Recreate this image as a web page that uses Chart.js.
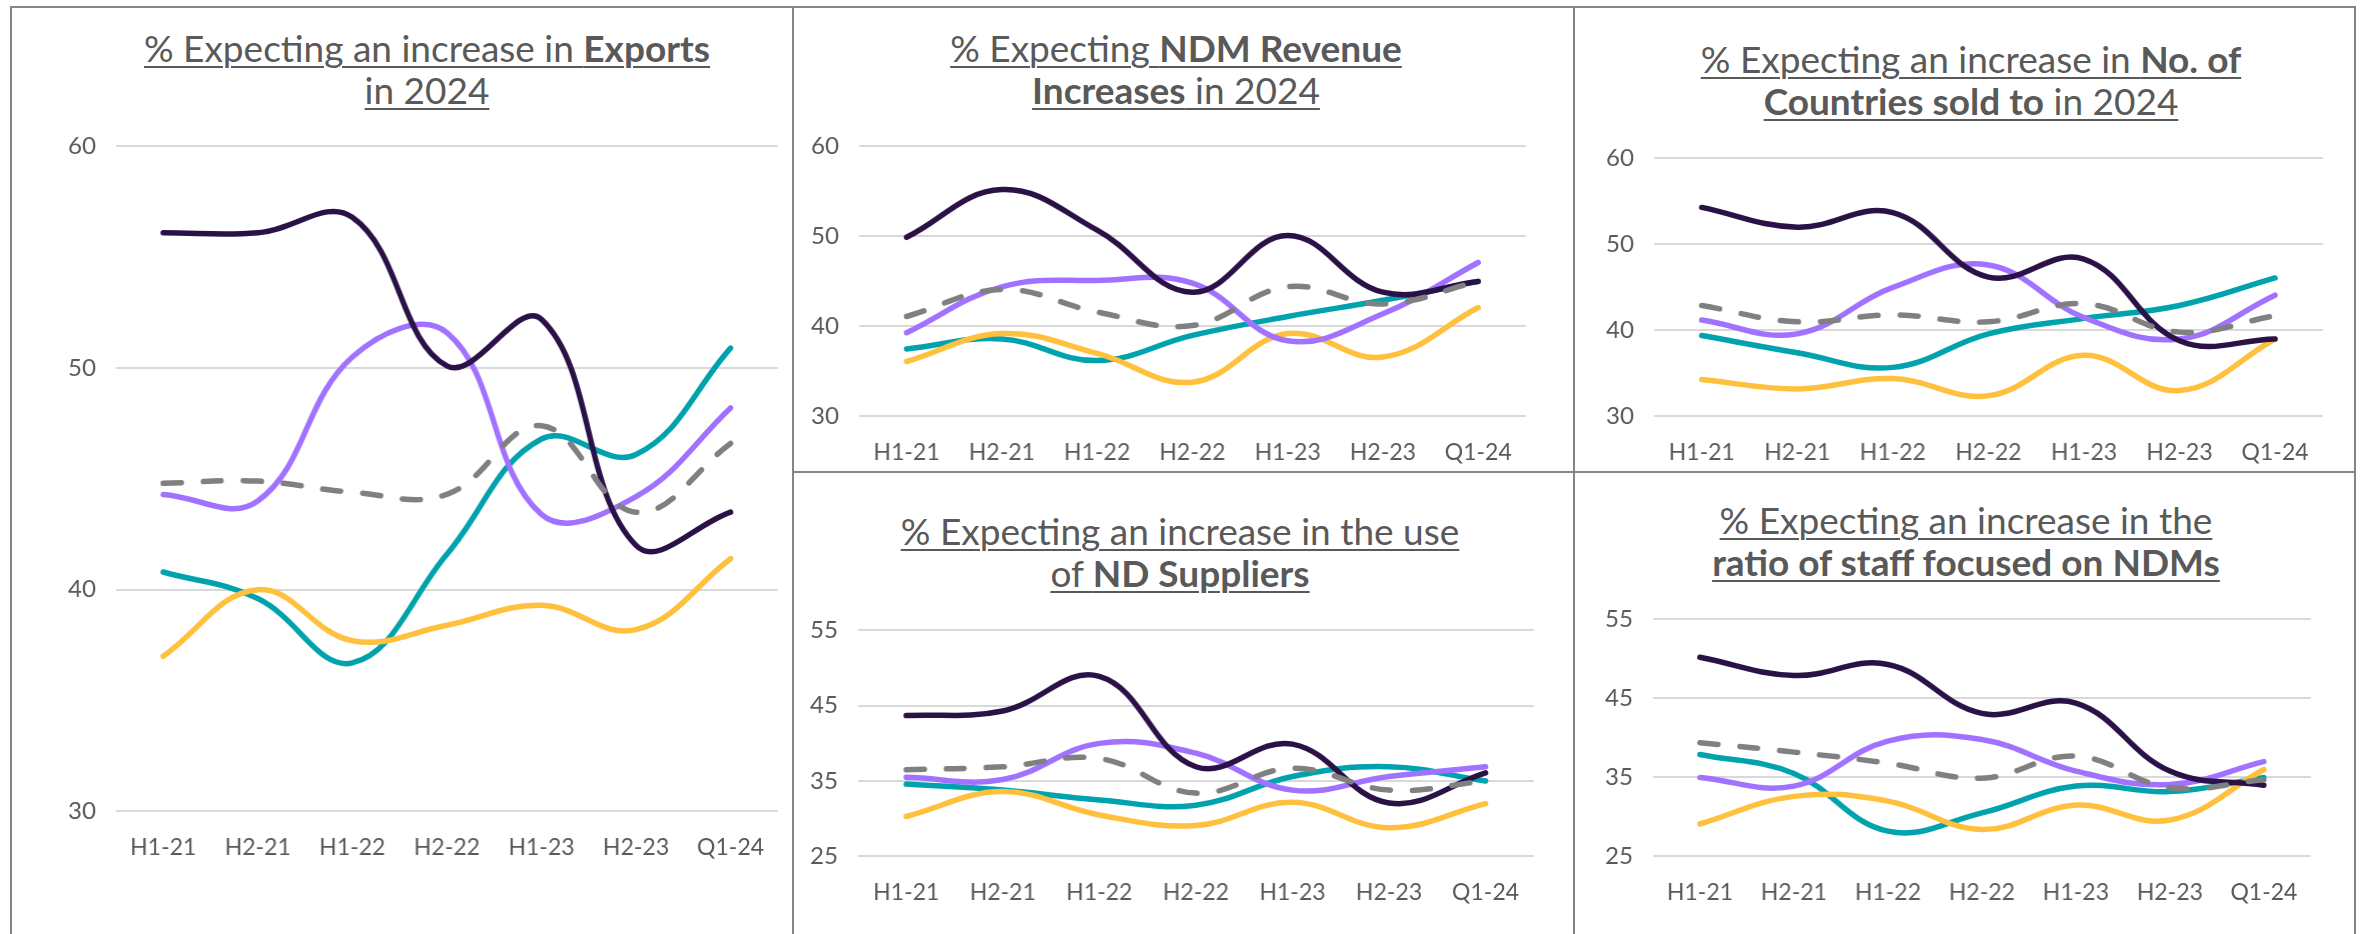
<!DOCTYPE html>
<html>
<head>
<meta charset="utf-8">
<script src="https://cdn.jsdelivr.net/npm/chart.js@4.4.1/dist/chart.umd.min.js"></script>
<style>
  body { margin: 0; width: 2362px; height: 934px; background: #fff; position: relative; overflow: hidden; font-family: Lato, "Noto Sans", sans-serif; }
  .rule { position: absolute; background: #858585; }
  .title { position: absolute; width: 760px; margin-left: -380px; text-align: center; color: #595959;
           font-size: 37px; line-height: 42px; white-space: nowrap; }
  .title span { text-decoration: underline; text-decoration-thickness: 2px; text-underline-offset: 4px; }
  .title b { font-weight: 700; }
  canvas { position: absolute; }
</style>
</head>
<body>
<!-- frame -->
<div class="rule" style="left:10px;top:6px;width:2346px;height:2px"></div>
<div class="rule" style="left:10px;top:6px;width:2px;height:928px"></div>
<div class="rule" style="left:792px;top:6px;width:2px;height:928px"></div>
<div class="rule" style="left:1573px;top:6px;width:2px;height:928px"></div>
<div class="rule" style="left:2354px;top:6px;width:2px;height:928px"></div>
<div class="rule" style="left:792px;top:471px;width:1564px;height:2px"></div>

<div class="title" style="left:427px;top:27px"><span>% Expecting an increase in <b>Exports</b></span><br><span>in 2024</span></div>
<div class="title" style="left:1176px;top:27px"><span>% Expecting <b>NDM Revenue</b></span><br><span><b>Increases</b> in 2024</span></div>
<div class="title" style="left:1971px;top:38px"><span>% Expecting an increase in <b>No. of</b></span><br><span><b>Countries sold to</b> in 2024</span></div>
<div class="title" style="left:1180px;top:510px"><span>% Expecting an increase in the use</span><br><span>of <b>ND Suppliers</b></span></div>
<div class="title" style="left:1966px;top:499px"><span>% Expecting an increase in the</span><br><span><b>ratio of staff focused on NDMs</b></span></div>

<canvas id="exports" width="800" height="800"></canvas>
<canvas id="revenue" width="800" height="400"></canvas>
<canvas id="countries" width="800" height="400"></canvas>
<canvas id="suppliers" width="800" height="400"></canvas>
<canvas id="staff" width="800" height="400"></canvas>

<script>
const periods = ['H1-21', 'H2-21', 'H1-22', 'H2-22', 'H1-23', 'H2-23', 'Q1-24'];

// Exports
const exportsDark   = [56.1, 56.1, 56.8, 50.1, 52.2, 42.0, 43.5];
const exportsPurple = [44.3, 44.0, 50.5, 51.6, 43.4, 44.2, 48.2];
const exportsTeal   = [40.8, 39.6, 36.7, 41.6, 46.8, 46.1, 50.9];
const exportsYellow = [37.0, 40.0, 37.7, 38.4, 39.3, 38.2, 41.4];
const exportsAvg    = [44.8, 44.9, 44.4, 44.3, 47.4, 43.5, 46.6];

// NDM revenue
const revenueDark   = [49.9, 55.2, 50.7, 43.8, 50.1, 43.8, 45.0];
const revenuePurple = [39.3, 44.4, 45.1, 44.8, 38.4, 41.4, 47.1];
const revenueTeal   = [37.5, 38.6, 36.2, 39.0, 41.1, 42.9, 45.0];
const revenueYellow = [36.1, 39.2, 37.0, 33.8, 39.2, 36.6, 42.1];
const revenueAvg    = [41.1, 44.1, 41.6, 40.1, 44.4, 42.5, 45.0];

// No. of countries sold to
const countriesDark   = [54.3, 52.0, 53.7, 46.2, 48.3, 38.8, 39.0];
const countriesPurple = [41.2, 39.6, 45.0, 47.6, 41.5, 39.0, 44.1];
const countriesTeal   = [39.4, 37.4, 35.7, 39.6, 41.4, 42.9, 46.1];
const countriesYellow = [34.3, 33.2, 34.4, 32.4, 37.1, 33.0, 39.0];
const countriesAvg    = [42.9, 41.0, 41.8, 41.0, 43.1, 39.8, 41.7];

// ND suppliers
const suppliersDark   = [43.7, 44.3, 48.9, 36.9, 39.9, 32.1, 36.1];
const suppliersPurple = [35.5, 35.2, 40.0, 38.7, 33.8, 35.6, 36.9];
const suppliersTeal   = [34.6, 33.8, 32.5, 31.8, 35.6, 36.9, 35.0];
const suppliersYellow = [30.3, 33.6, 30.5, 29.1, 32.2, 28.8, 32.0];
const suppliersAvg    = [36.5, 36.9, 38.0, 33.4, 36.7, 33.8, 35.0];

// ratio of staff focused on NDMs
const staffDark   = [50.2, 47.9, 49.3, 43.1, 44.4, 35.8, 34.0];
const staffPurple = [35.0, 33.9, 39.6, 39.8, 35.8, 34.1, 37.0];
const staffTeal   = [37.9, 35.5, 28.2, 30.5, 33.9, 33.2, 35.0];
const staffYellow = [29.1, 32.6, 32.0, 28.4, 31.5, 29.6, 36.0];
const staffAvg    = [39.4, 38.2, 36.8, 34.9, 37.7, 33.7, 34.7];

const textColor = '#595959';

function makeChart(id, dark, purple, teal, yellow, avg, yMin, yMax, yStep, area) {
    const canvas = document.getElementById(id);
    // first dataset is drawn on top
    const chart = new Chart(canvas, {
        type: 'line',
        data: {
            labels: periods,
            datasets: [
                { data: avg, borderColor: '#808080', borderDash: [18, 22] },
                { data: dark, borderColor: '#2a1146' },
                { data: purple, borderColor: '#a172ff' },
                { data: yellow, borderColor: '#ffc03d' },
                { data: teal, borderColor: '#00a3ad' }
            ]
        },
        options: {
            responsive: false,
            maintainAspectRatio: false,
            animation: false,
            events: [],
            plugins: { legend: { display: false }, tooltip: { enabled: false } },
            layout: { padding: { left: 10, right: 10, top: 20, bottom: 10 } },
            elements: {
                line: { tension: 0.4, borderWidth: 5.5, borderCapStyle: 'round', borderJoinStyle: 'round', fill: false },
                point: { radius: 0 }
            },
            scales: {
                x: {
                    offset: true,
                    grid: { display: false },
                    border: { display: false },
                    ticks: { color: textColor, font: { family: 'Lato', size: 23 }, padding: 14, maxRotation: 0, autoSkip: false }
                },
                y: {
                    min: yMin, max: yMax,
                    border: { display: false },
                    grid: { color: '#d9d9d9', lineWidth: 2, drawTicks: false },
                    ticks: { stepSize: yStep, color: textColor, font: { family: 'Lato', size: 24 }, padding: 20 }
                }
            }
        }
    });
    // size and place the canvas so the plot area lands on the target box
    let ca = chart.chartArea;
    const w = chart.width + (area.right - area.left) - (ca.right - ca.left);
    const h = chart.height + (area.bottom - area.top) - (ca.bottom - ca.top);
    chart.resize(w, h);
    ca = chart.chartArea;
    canvas.style.left = (area.left - ca.left) + 'px';
    canvas.style.top = (area.top - ca.top) + 'px';
    return chart;
}

makeChart('exports', exportsDark, exportsPurple, exportsTeal, exportsYellow, exportsAvg, 30, 60, 10,
    { left: 116, right: 777, top: 146, bottom: 811 });
makeChart('revenue', revenueDark, revenuePurple, revenueTeal, revenueYellow, revenueAvg, 30, 60, 10,
    { left: 859, right: 1525, top: 146, bottom: 416 });
makeChart('countries', countriesDark, countriesPurple, countriesTeal, countriesYellow, countriesAvg, 30, 60, 10,
    { left: 1654, right: 2322, top: 158, bottom: 416 });
makeChart('suppliers', suppliersDark, suppliersPurple, suppliersTeal, suppliersYellow, suppliersAvg, 25, 55, 10,
    { left: 858, right: 1533, top: 630, bottom: 856 });
makeChart('staff', staffDark, staffPurple, staffTeal, staffYellow, staffAvg, 25, 55, 10,
    { left: 1653, right: 2310, top: 619, bottom: 856 });
</script>
</body>
</html>
